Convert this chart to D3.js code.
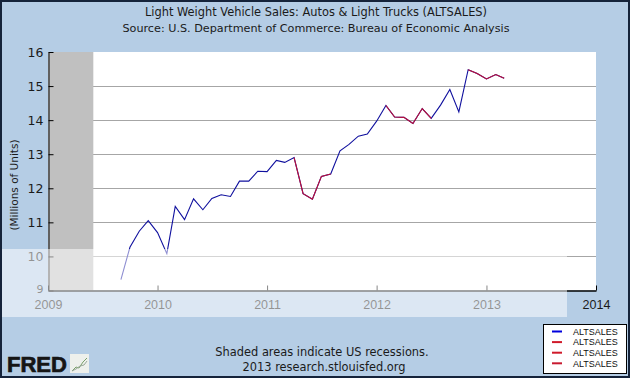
<!DOCTYPE html>
<html><head><meta charset="utf-8">
<script src="https://cdn.jsdelivr.net/npm/d3@7/dist/d3.min.js"></script>
<style>html,body{margin:0;padding:0;background:#b5cde5;}svg{display:block}</style>
</head><body>
<svg id="chart" width="630" height="378"></svg>
<script>
// ---------- data ----------
const months = [
  "2009-09-01","2009-10-01","2009-11-01","2009-12-01",
  "2010-01-01","2010-02-01","2010-03-01","2010-04-01","2010-05-01","2010-06-01",
  "2010-07-01","2010-08-01","2010-09-01","2010-10-01","2010-11-01","2010-12-01",
  "2011-01-01","2011-02-01","2011-03-01","2011-04-01","2011-05-01","2011-06-01",
  "2011-07-01","2011-08-01","2011-09-01","2011-10-01","2011-11-01","2011-12-01",
  "2012-01-01","2012-02-01","2012-03-01","2012-04-01","2012-05-01","2012-06-01",
  "2012-07-01","2012-08-01","2012-09-01","2012-10-01","2012-11-01","2012-12-01",
  "2013-01-01","2013-02-01","2013-03-01"
];
const altsales = [
  9.32, 10.27, 10.74, 11.05,
  10.70, 10.08, 11.47, 11.08, 11.69, 11.37,
  11.70, 11.81, 11.76, 12.21, 12.21, 12.50,
  12.49, 12.82, 12.76, 12.90, 11.84, 11.68,
  12.35, 12.42, 13.10, 13.29, 13.53, 13.59,
  13.97, 14.43, 14.09, 14.08, 13.90, 14.34,
  14.05, 14.44, 14.90, 14.24, 15.48, 15.37,
  15.21, 15.34, 15.23
];
const seriesNames  = ["ALTSALES","ALTSALES","ALTSALES","ALTSALES"];
const seriesColors = ["#10109e","#be1038","#be1038","#be1038"];
const legendColors = ["#0000dd","#d01a2a","#d01a2a","#c81a30"];
const seriesStart  = ["2009-09-01","2011-04-01","2012-02-01","2012-11-01"];
const seriesEnd    = ["2013-03-01","2011-08-01","2012-07-01","2013-03-01"];
const recessionStart = ["2008-01-01"];
const recessionEnd   = ["2009-06-01"];
const yTicks = [9,10,11,12,13,14,15,16];
const xTickLabels = ["2009","2010","2011","2012","2013","2014"];
const titleLines = ["Light Weight Vehicle Sales: Autos & Light Trucks (ALTSALES)",
                    "Source: U.S. Department of Commerce: Bureau of Economic Analysis"];
const yTitle = "(Millions of Units)";
const footLines = ["Shaded areas indicate US recessions.","2013 research.stlouisfed.org"];

// ---------- chart ----------
(function(){
const parse = d3.timeParse("%Y-%m-%d");
const data = months.map((m,i)=>({date:parse(m), value:altsales[i]}));
const svg = d3.select("#chart");
const W = 630, H = 378;
const pL = 48, pR = 596, pT = 52, pB = 290.5;

svg.append("rect").attr("width",W).attr("height",H).attr("fill","#b5cde5");

const x = d3.scaleTime().domain([parse("2009-01-01"), parse("2014-01-01")]).range([pL,pR]);
const y = d3.scaleLinear().domain([9,16]).range([pB,pT]);

svg.append("rect").attr("x",pL).attr("y",pT).attr("width",pR-pL).attr("height",pB-pT).attr("fill","#ffffff");

svg.append("g").selectAll("line").data(yTicks.filter(v=>v>9 && v<16)).join("line")
  .attr("x1",pL).attr("x2",pR)
  .attr("y1",d=>Math.round(y(d))+0.5).attr("y2",d=>Math.round(y(d))+0.5)
  .attr("stroke","#a6a6a6").attr("stroke-width",1);

svg.append("g").selectAll("rect").data(recessionStart.map((s,i)=>[parse(s),parse(recessionEnd[i])])).join("rect")
  .attr("x",d=>Math.max(pL,x(d[0])))
  .attr("width",d=>x(d[1])-Math.max(pL,x(d[0])))
  .attr("y",pT).attr("height",pB-pT).attr("fill","#c0c0c0");

const line = d3.line().x(d=>x(d.date)).y(d=>y(d.value));
seriesNames.forEach((n,i)=>{
  const s = parse(seriesStart[i]), e = parse(seriesEnd[i]);
  const seg = data.filter(d=>d.date>=s && d.date<=e);
  svg.append("path").datum(seg).attr("d",line).attr("fill","none")
    .attr("stroke",seriesColors[i]).attr("stroke-width",1.1);
});

const yAxis = d3.axisLeft(y).tickValues(yTicks).tickSizeInner(-5).tickSizeOuter(0).tickPadding(5).tickFormat(d3.format("d"));
const gy = svg.append("g").attr("transform",`translate(${pL+0.5},0)`).call(yAxis);
gy.select(".domain").attr("stroke","#000");
gy.selectAll(".tick line").attr("stroke","#000");
gy.selectAll("text").attr("font-family","DejaVu Sans").attr("font-size","12.5px").attr("fill","#1a1a1a");
gy.selectAll(".tick").filter(d=>d===9).select("text").attr("font-size","11px").attr("dy","0.2em");

const xAxis = d3.axisBottom(x).tickValues(xTickLabels.map(t=>parse(t+"-01-01")))
  .tickSizeInner(-5).tickSizeOuter(0).tickPadding(9.5).tickFormat(d3.timeFormat("%Y"));
const gx = svg.append("g").attr("transform",`translate(0,${pB})`).call(xAxis);
gx.select(".domain").attr("stroke","#000").attr("stroke-width",1.5);
gx.selectAll(".tick line").attr("stroke","#000");
gx.selectAll("text").attr("font-family","Liberation Sans").attr("font-size","12.5px").attr("fill","#1a1a1a");

svg.append("text").attr("transform","translate(18,185) rotate(-90)").attr("text-anchor","middle")
  .attr("font-family","DejaVu Sans").attr("font-size","10.5px").attr("fill","#1a1a1a").text(yTitle);

svg.selectAll(".title").data(titleLines).join("text").attr("class","title")
  .attr("x",316).attr("y",(d,i)=>16+i*15.5).attr("text-anchor","middle")
  .attr("font-family","DejaVu Sans").attr("font-size",(d,i)=>i?"11.2px":"11.4px").attr("fill","#1a1a1a").text(d=>d);

svg.selectAll(".foot").data(footLines).join("text").attr("class","foot")
  .attr("x",(d,i)=>i?324:322).attr("y",(d,i)=>356+i*15).attr("text-anchor","middle")
  .attr("font-family","DejaVu Sans").attr("font-size","11.4px").attr("fill","#1a1a1a").text(d=>d);

const lg = svg.append("g");
lg.append("rect").attr("x",543.5).attr("y",324.5).attr("width",83).attr("height",49)
  .attr("fill","#fff").attr("stroke","#000").attr("stroke-width",1);
seriesNames.forEach((n,i)=>{
  const yy = 331.5 + i*10.6;
  lg.append("line").attr("x1",552).attr("x2",562).attr("y1",yy).attr("y2",yy)
    .attr("stroke",legendColors[i]).attr("stroke-width",2);
  lg.append("text").attr("x",573).attr("y",yy+3.3).attr("font-family","Liberation Sans")
    .attr("font-size","9px").attr("fill","#111").text(n);
});

svg.append("text").attr("x",7).attr("y",372).attr("font-family","Liberation Sans").attr("font-weight","bold")
  .attr("font-size","22px").attr("fill","#151515").attr("stroke","#151515").attr("stroke-width",0.7).text("FRED");
svg.append("rect").attr("x",70).attr("y",354).attr("width",19).attr("height",19).attr("fill","#eef0ec");
svg.append("path").attr("d","M72,371 L76,367 L79,368 L83,362 L87,358").attr("fill","none").attr("stroke","#7aa06a").attr("stroke-width",1);
svg.append("path").attr("d","M72,371 L76,369 L80,366 L84,365 L87,361").attr("fill","none").attr("stroke","#9aa89a").attr("stroke-width",1);

svg.append("rect").attr("x",0).attr("y",249).attr("width",567).attr("height",68).attr("fill","#ffffff").attr("fill-opacity",0.53);

svg.append("rect").attr("x",1).attr("y",1).attr("width",W-2).attr("height",H-2).attr("fill","none")
  .attr("stroke","#15233a").attr("stroke-width",2);
})();
</script>
</body></html>
